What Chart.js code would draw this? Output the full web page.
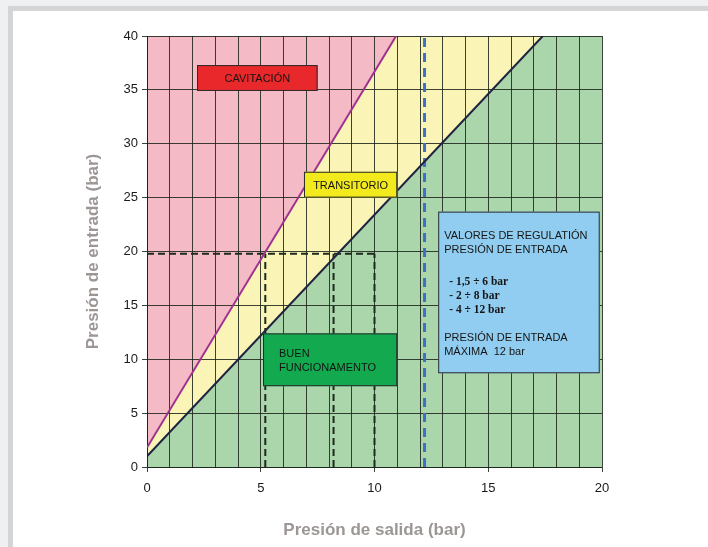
<!DOCTYPE html>
<html>
<head>
<meta charset="utf-8">
<script src="https://cdn.jsdelivr.net/npm/chart.js@4.4.0/dist/chart.umd.min.js"></script>
<style>
  body { margin: 0; background: #eff0f2; }
  #frame {
    position: absolute; left: 8px; top: 6px;
    width: 695px; height: 536px;
    border-left: 5px solid #d4d5d7; border-top: 5px solid #d4d5d7;
    background: #fff;
  }
</style>
</head>
<body>
<div id="frame"><canvas id="graph-canvas"></canvas></div>
<script>
// limits (x = outlet pressure, y = inlet pressure, bar)
const cavX = [0, 10.95];
const cavY = [1.8, 40];
const okX = [0, 17.4];
const okY = [1, 40];
const maxInlet = 12.2;          // blue dashed line
const refInlet = 19.8;          // horizontal dashed line
const refOutlets = [5.2, 8.2, 10];
const xTickLabels = [0, 5, 10, 15, 20];
const yTickLabels = [0, 5, 10, 15, 20, 25, 30, 35, 40];

function pts(xs, ys) {
  return xs.map((x, i) => ({ x: x, y: ys[i] }));
}

const fontSans = "'Liberation Sans', Arial, sans-serif";

let datasets = [
  { // purple line + pink zone above
    data: pts(cavX, cavY), borderColor: '#a0308f', borderWidth: 2,
    fill: 'end', backgroundColor: 'rgb(244,186,198)'
  },
  { // dark line + green zone below
    data: pts(okX, okY), borderColor: '#1f2340', borderWidth: 2,
    fill: false
  },
  {
    data: pts(okX, okY).concat([{ x: 20, y: 40 }]), borderWidth: 0,
    fill: 'origin', backgroundColor: 'rgb(171,214,172)'
  },
  { // yellow transitional zone (background)
    data: [{ x: 0, y: 40 }, { x: 20, y: 40 }], borderWidth: 0,
    fill: 'origin', backgroundColor: 'rgb(250,245,182)'
  },
  {
    data: [{ x: maxInlet, y: 0 }, { x: maxInlet, y: 40 }],
    borderColor: '#3d6fc6', borderWidth: 3, borderDash: [9, 6], fill: false
  },
  {
    data: [{ x: 0, y: refInlet }, { x: refOutlets[refOutlets.length - 1], y: refInlet }],
    borderColor: '#1c2a1c', borderWidth: 2, borderDash: [7, 4], fill: false
  }
];
refOutlets.forEach(function (v) {
  datasets.push({
    data: [{ x: v, y: 0 }, { x: v, y: refInlet }],
    borderColor: '#1c2a1c', borderWidth: 2, borderDash: [7, 4], fill: false
  });
});

// labelled boxes, in data units
const boxes = [
  { x0: 2.2, x1: 7.5, y0: 37.3, y1: 34.9, bg: '#e8282a', lines: [{ t: 'CAVITACIÓN', center: true }] },
  { x0: 6.9, x1: 11.0, y0: 27.4, y1: 25.0, bg: '#f2ea1c', lines: [{ t: 'TRANSITORIO', center: true }] },
  { x0: 5.1, x1: 11.0, y0: 12.4, y1: 7.5, bg: '#13a94f', lines: [
    { t: 'BUEN', dx: 16, dy: 21 }, { t: 'FUNCIONAMENTO', dx: 16, dy: 35 }] },
  { x0: 12.8, x1: 19.9, y0: 23.7, y1: 8.7, bg: '#90cdf0', lines: [
    { t: 'VALORES DE REGULATIÓN', dx: 6, dy: 24 },
    { t: 'PRESIÓN DE ENTRADA', dx: 6, dy: 38 },
    { t: '- 1,5 ÷ 6 bar', dx: 11, dy: 70, serif: true },
    { t: '- 2 ÷ 8 bar', dx: 11, dy: 84, serif: true },
    { t: '- 4 ÷ 12 bar', dx: 11, dy: 98, serif: true },
    { t: 'PRESIÓN DE ENTRADA', dx: 6, dy: 126 },
    { t: 'MÁXIMA  12 bar', dx: 6, dy: 140 }] }
];

const boxPlugin = {
  id: 'boxes',
  afterDraw(chart) {
    const ctx = chart.ctx;
    const xs = chart.scales.x, ys = chart.scales.y;
    ctx.save();
    boxes.forEach(function (b) {
      const l = xs.getPixelForValue(b.x0), r = xs.getPixelForValue(b.x1);
      const t = ys.getPixelForValue(b.y0), btm = ys.getPixelForValue(b.y1);
      ctx.fillStyle = b.bg;
      ctx.fillRect(l, t, r - l, btm - t);
      ctx.strokeStyle = '#2a2a2a';
      ctx.lineWidth = 1;
      ctx.strokeRect(l + 0.5, t + 0.5, r - l - 1, btm - t - 1);
      ctx.fillStyle = '#151515';
      ctx.textBaseline = 'middle';
      b.lines.forEach(function (ln) {
        ctx.font = ln.serif ? "bold 11.5px 'Liberation Serif', 'Times New Roman', serif" : '11px ' + fontSans;
        if (ln.center) {
          ctx.textAlign = 'center';
          ctx.fillText(ln.t, (l + r) / 2, (t + btm) / 2 + 1);
        } else {
          ctx.textAlign = 'left';
          ctx.fillText(ln.t, l + ln.dx, t + ln.dy);
        }
      });
    });
    ctx.restore();
  }
};

const gridColor = 'rgba(25,35,25,0.85)';

new Chart(document.getElementById('graph-canvas'), {
  type: 'line',
  data: { datasets: datasets },
  options: {
    responsive: true,
    maintainAspectRatio: false,
    animation: false,
    layout: { padding: { left: 0, top: 25, right: 106, bottom: 0 } },
    elements: { point: { radius: 0 }, line: { tension: 0 } },
    plugins: {
      legend: { display: false },
      tooltip: { enabled: false },
      filler: { drawTime: 'beforeDraw' }
    },
    scales: {
      x: {
        type: 'linear', min: 0, max: 20,
        afterFit: function (s) { s.height = 80; },
        ticks: {
          stepSize: 1, padding: 9, color: '#1a1a1a',
          font: { family: fontSans, size: 13 },
          callback: function (v) { return xTickLabels.includes(v) ? String(v) : ''; }
        },
        grid: {
          color: gridColor, lineWidth: 1, tickLength: 5,
          tickColor: function (c) { return xTickLabels.includes(c.tick.value) ? gridColor : 'rgba(0,0,0,0)'; }
        },
        border: { color: gridColor },
        title: {
          display: true, text: 'Presión de salida (bar)', color: '#9c9694',
          font: { family: fontSans, size: 17, weight: 'bold' },
          padding: { top: 0, bottom: 6 }
        }
      },
      y: {
        type: 'linear', min: 0, max: 40,
        afterFit: function (s) { s.width = 134; },
        ticks: {
          stepSize: 5, padding: 4, color: '#1a1a1a',
          font: { family: fontSans, size: 13 },
          callback: function (v) { return yTickLabels.includes(v) ? String(v) : ''; }
        },
        grid: { color: gridColor, lineWidth: 1, tickLength: 5 },
        border: { color: gridColor },
        title: {
          display: true, text: 'Presión de entrada (bar)', color: '#9c9694',
          font: { family: fontSans, size: 17, weight: 'bold' },
          padding: { top: 70, bottom: 0 }
        }
      }
    }
  },
  plugins: [boxPlugin]
});
</script>
</body>
</html>
